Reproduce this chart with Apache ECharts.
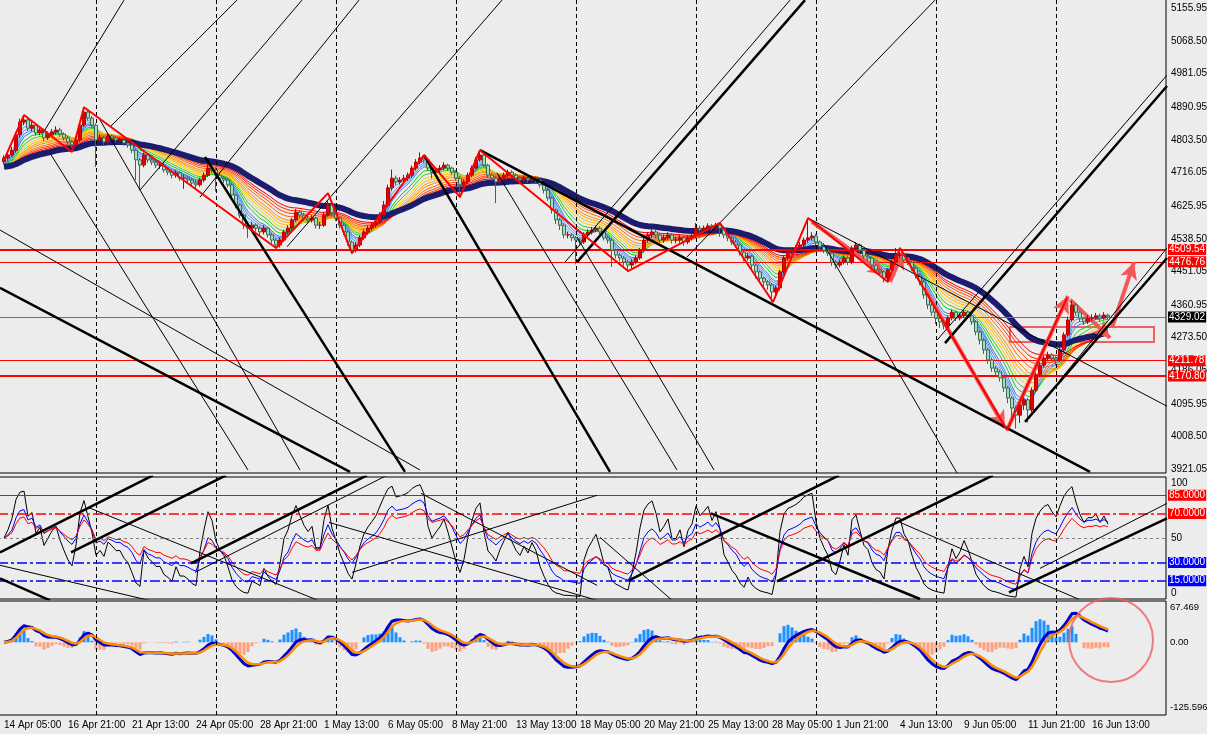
<!DOCTYPE html>
<html>
<head>
<meta charset="utf-8">
<script src="https://cdn.jsdelivr.net/npm/echarts@6/dist/echarts.min.js"></script>
<style>
  html, body { margin: 0; padding: 0; background: #ececec; }
  #chart { width: 1207px; height: 734px; }
</style>
</head>
<body>
<div id="chart"></div>
<script>
// ---- data (H4 bars, 14 Apr 05:00 .. 17 Jun) ----
var timeLabels = ["14 Apr 05:00", "16 Apr 21:00", "21 Apr 13:00", "24 Apr 05:00", "28 Apr 21:00",
  "1 May 13:00", "6 May 05:00", "8 May 21:00", "13 May 13:00", "18 May 05:00", "20 May 21:00",
  "25 May 13:00", "28 May 05:00", "1 Jun 21:00", "4 Jun 13:00", "9 Jun 05:00", "11 Jun 21:00", "16 Jun 13:00"];
var priceTicks = [5155.95, 5068.50, 4981.05, 4890.95, 4803.50, 4716.05, 4625.95, 4538.50,
  4451.05, 4360.95, 4273.50, 4186.05, 4095.95, 4008.50, 3921.05];
var macdTicks = [67.469, 0, -125.596];
var oscTicks = ["0", "50", "100"];

var firstOpen = 4745;
var closes = [
  4755,4763,4776,4817,4851,4857,4835,4843,4822,4830, 4809,4817,4825,4830,4819,4809,4798,4790,4803,4843,
  4878,4862,4843,4803,4809,4798,4814,4809,4803,4803, 4795,4790,4776,4750,4736,4763,4750,4744,4736,4736,
  4723,4717,4709,4715,4701,4701,4696,4688,4683,4696, 4709,4728,4723,4709,4701,4696,4683,4656,4629,4602,
  4575,4567,4575,4567,4557,4567,4549,4535,4522,4535, 4557,4567,4589,4610,4602,4594,4589,4594,4575,4575,
  4602,4629,4608,4594,4575,4557,4530,4508,4522,4541, 4557,4567,4575,4584,4602,4629,4675,4701,4691,4696,
  4701,4709,4728,4744,4755,4750,4728,4717,4723,4728, 4736,4728,4717,4701,4683,4691,4709,4728,4750,4763,
  4736,4709,4701,4691,4701,4709,4717,4709,4701,4696, 4701,4696,4701,4696,4683,4669,4648,4616,4589,4575,
  4549,4549,4541,4535,4530,4549,4557,4562,4567,4557, 4541,4535,4508,4495,4487,4476,4468,4476,4487,4508,
  4535,4549,4557,4549,4535,4541,4549,4535,4535,4541, 4530,4541,4546,4567,4562,4567,4573,4567,4575,4567,
  4549,4541,4530,4522,4503,4487,4492,4468,4450,4433, 4423,4415,4396,4407,4450,4487,4503,4508,4514,4522,
  4535,4541,4546,4530,4517,4508,4500,4476,4468,4476, 4487,4476,4514,4522,4508,4492,4487,4468,4455,4450,
  4433,4455,4476,4495,4495,4482,4476,4460,4441,4423, 4388,4361,4342,4326,4316,4307,4326,4342,4326,4332,
  4342,4332,4316,4289,4267,4241,4214,4192,4182,4166, 4139,4112,4085,4066,4093,4107,4080,4133,4174,4200,
  4219,4227,4219,4214,4241,4281,4321,4361,4342,4326, 4316,4326,4326,4332,4326,4334,4329
];
var highs = [
  4762,4770,4785,4825,4860,4870,4862,4852,4848,4840, 4834,4826,4833,4840,4836,4824,4814,4803,4810,4850,
  4892,4885,4868,4848,4818,4814,4820,4818,4814,4810, 4808,4800,4795,4780,4755,4770,4768,4756,4750,4745,
  4740,4730,4722,4722,4720,4710,4706,4700,4694,4702, 4716,4742,4734,4728,4714,4706,4700,4688,4660,4634,
  4606,4582,4584,4580,4572,4575,4570,4554,4540,4542, 4562,4575,4595,4618,4615,4608,4600,4602,4598,4584,
  4610,4640,4634,4612,4598,4580,4562,4534,4530,4548, 4564,4574,4582,4592,4610,4640,4684,4724,4708,4704,
  4710,4716,4735,4752,4770,4762,4754,4732,4730,4736, 4744,4740,4732,4722,4706,4698,4716,4735,4758,4776,
  4768,4740,4714,4706,4708,4716,4724,4722,4714,4706, 4708,4706,4708,4706,4700,4688,4674,4652,4620,4594,
  4580,4558,4554,4546,4540,4556,4564,4570,4574,4572, 4562,4546,4540,4512,4500,4492,4482,4484,4494,4514,
  4542,4556,4564,4562,4554,4550,4556,4554,4544,4550, 4546,4548,4554,4581,4574,4574,4580,4578,4581,4580,
  4572,4554,4546,4536,4526,4508,4500,4496,4472,4454, 4438,4428,4420,4414,4456,4494,4510,4516,4522,4530,
  4542,4594,4556,4552,4534,4522,4514,4504,4482,4482, 4494,4492,4520,4530,4526,4512,4496,4490,4472,4460,
  4454,4460,4482,4514,4504,4500,4488,4480,4464,4446, 4428,4392,4366,4348,4332,4322,4332,4348,4346,4340,
  4348,4346,4338,4320,4294,4272,4246,4220,4198,4188, 4172,4144,4116,4090,4100,4114,4112,4140,4180,4208,
  4226,4236,4232,4224,4248,4288,4330,4372,4366,4346, 4330,4334,4336,4340,4338,4342,4338
];
var lows = [
  4738,4748,4758,4770,4810,4843,4828,4826,4815,4816, 4800,4803,4810,4818,4812,4802,4790,4782,4785,4798,
  4838,4855,4836,4731,4796,4790,4792,4802,4796,4795, 4788,4782,4768,4696,4669,4730,4742,4736,4728,4726,
  4716,4709,4700,4702,4694,4672,4688,4680,4672,4678, 4690,4704,4715,4665,4694,4688,4676,4648,4620,4594,
  4565,4540,4560,4558,4548,4550,4542,4526,4512,4515, 4530,4550,4562,4584,4594,4586,4582,4582,4566,4565,
  4570,4598,4600,4586,4566,4548,4520,4498,4502,4516, 4536,4550,4560,4568,4578,4596,4622,4668,4682,4684,
  4690,4694,4702,4722,4738,4742,4720,4700,4710,4716, 4722,4720,4710,4694,4650,4676,4686,4704,4724,4745,
  4730,4702,4694,4634,4686,4696,4704,4702,4694,4686, 4690,4688,4690,4688,4676,4660,4640,4606,4578,4562,
  4540,4540,4532,4470,4520,4525,4544,4550,4556,4550, 4534,4526,4463,4486,4478,4466,4452,4460,4470,4482,
  4502,4528,4540,4540,4528,4528,4534,4526,4526,4528, 4520,4524,4534,4540,4540,4556,4560,4560,4560,4544,
  4540,4532,4522,4514,4494,4478,4480,4458,4432,4424, 4405,4402,4369,4388,4400,4444,4480,4496,4500,4506,
  4516,4528,4534,4522,4508,4500,4492,4466,4458,4462, 4470,4468,4470,4508,4500,4484,4478,4460,4446,4440,
  4422,4426,4450,4470,4486,4474,4468,4452,4432,4414, 4378,4350,4332,4310,4300,4296,4300,4320,4318,4320,
  4326,4324,4308,4280,4256,4230,4204,4182,4170,4156, 4128,4098,4060,4030,4045,4080,4046,4074,4128,4168,
  4194,4212,4210,4200,4208,4236,4276,4316,4334,4316, 4308,4310,4318,4322,4318,4322,4322
];

var weekStarts = [23, 53, 83, 113, 143, 173, 203, 233, 263];   // bar index of each Monday 01:00
var redLevels = [4509.54, 4476.76, 4211.78, 4170.80];
var bidPrice = 4329.02;
var oscLevels = [85, 70, 50, 30, 15];

// drawn objects, [bar, price, bar, price]
var thickLines = [
  [-1, 4407, 86.5, 3914], [50.25, 4758, 100.25, 3914], [105, 4763, 151.5, 3914],
  [119, 4776, 271.5, 3914], [143.25, 4476, 200.25, 5178], [235.25, 4259, 290.75, 4948],
  [255.25, 4048, 290.75, 4487]
];
var thinLines = [
  [201, 4594, 290.75, 4090], [140.25, 4476, 196.5, 5178], [233.25, 4267, 290.75, 4977],
  [264, 4160, 290.75, 4514], [170.75, 4490, 232.75, 5178], [-1, 4562, 104, 3919],
  [11.5, 4768, 61, 3919], [24, 4857, 74, 3919], [123.25, 4715, 168.25, 3919],
  [143.25, 4543, 177.5, 3919], [204.75, 4527, 238.25, 3911], [9.75, 4822, 30, 5178],
  [26.5, 4838, 58.25, 5178], [34, 4669, 74.5, 5178], [49, 4650, 88.75, 5178], [70.75, 4517, 124.5, 5178]
];
var oscThick = [
  [-1, 38.2, 37.25, 101.4], [16.75, 38.2, 55.5, 101.4], [46.75, 29.2, 90.75, 101.4],
  [156.25, 15.3, 208.75, 101.4], [193.25, 14.4, 247.25, 101.4], [251.25, 5.4, 290.75, 66.1],
  [-1, 16.9, 11.5, -1.1], [176.75, 70.2, 229, 0]
];
var oscThin = [
  [47.75, 21.8, 95.75, 101.4], [87, 21.8, 148.25, 85], [259, 25.1, 290.75, 78.4],
  [21, 75.1, 78.5, -1.1], [-1, 27.6, 36.25, -1.1], [81.25, 62.8, 148.25, -1.1],
  [104.25, 86.6, 148.25, 11.2], [149, 50.5, 166.75, -0.3], [224, 62.8, 268.75, -0.3]
];
var zigzagPts = [[0, 4750], [5, 4870], [17, 4771], [20, 4891], [68, 4514], [81, 4661], [87, 4500],
  [105, 4763], [114, 4650], [119, 4776], [156, 4452], [179, 4581], [192.25, 4369], [201, 4594],
  [221, 4423], [224, 4514], [250.75, 4026], [265.75, 4380]];
var arrowSegs = [[202, 4584, 220.25, 4442], [221.5, 4423, 224.75, 4503], [225.75, 4487, 250.25, 4032],
  [250.75, 4026, 266, 4385], [266.5, 4375, 276.5, 4273], [277, 4300, 282.5, 4476]];
var boxArea = [251.5, 4302, 287.5, 4262];
var circleMark = [276.75, 4.4];

// indicator settings
var ribbonSeed = 4730;
var ribbonPeriods = [2, 3, 4, 5, 6, 8, 10, 12, 14, 16, 18, 21, 24, 27, 30];
var ribbonColors = ['#7fb0f2', '#6aa2f0', '#5b94ec', '#4f88ea', '#3d7de8', '#00d800', '#3cc83c',
  '#ffd000', '#ffbb00', '#ffa500', '#ff9000', '#ff6a00', '#ff4a00', '#ff2a00', '#ff0000'];
var navyPeriod = 40;
var rsiPeriods = [5, 11, 16];
var rsiColors = ['#000000', '#0000ff', '#ff0000'];
var macdFast = 5, macdSlow = 13, macdSignal = 3, osmaScale = 3;

// ---- chart ----
var FONT = "'Liberation Sans', Arial, sans-serif";
var myChart = echarts.init(document.getElementById('chart'));

var nSlots = 292;
var slots = [];
for (var s = 0; s < nSlots; s++) slots.push(s);

var candleData = [];
for (var i = 0; i < closes.length; i++) {
  var o = i === 0 ? firstOpen : closes[i - 1];
  candleData.push([i + 1, o, closes[i], lows[i], highs[i]]);
}

function ema(src, n, seed) {
  var k = 2 / (n + 1), v = seed, out = [];
  for (var j = 0; j < src.length; j++) { v = v + k * (src[j] - v); out.push(v); }
  return out;
}
function rsi(src, n) {
  var g = 8, l = 8, out = [];
  for (var j = 0; j < src.length; j++) {
    var d = j === 0 ? 0 : src[j] - src[j - 1];
    g = (g * (n - 1) + Math.max(d, 0)) / n;
    l = (l * (n - 1) + Math.max(-d, 0)) / n;
    out.push(100 - 100 / (1 + g / l));
  }
  return out;
}
function pairs(arr) { return arr.map(function (v, j) { return [j, v]; }); }

var series = [];

function sepSeries(xi, yi) {
  return {
    type: 'line', xAxisIndex: xi, yAxisIndex: yi, data: [[-100, -1000]], symbol: 'none', silent: true, z: 1,
    markLine: {
      silent: true, symbol: ['none', 'none'], label: { show: false },
      lineStyle: { type: [4, 3], color: '#000', width: 1 },
      data: weekStarts.map(function (b) { return { xAxis: b }; })
    }
  };
}
function segSeries(list, xi, yi, width, z) {
  return list.map(function (l) {
    return {
      type: 'line', xAxisIndex: xi, yAxisIndex: yi, data: [[l[0], l[1]], [l[2], l[3]]],
      symbol: 'none', silent: true, z: z, lineStyle: { color: '#000', width: width }
    };
  });
}
function boxLabel(text, bg) {
  return {
    show: true, position: 'end', distance: 2, formatter: text, color: '#fff', backgroundColor: bg,
    padding: [1, 1, 0, 1], fontSize: 10, lineHeight: 10, fontFamily: FONT
  };
}

// separators in all panels
series.push(sepSeries(3, 0), sepSeries(4, 1), sepSeries(5, 2));

// ribbon
ribbonPeriods.forEach(function (p, k) {
  series.push({
    type: 'line', xAxisIndex: 3, yAxisIndex: 0, data: pairs(ema(closes, p, ribbonSeed)),
    symbol: 'none', silent: true, z: 3, lineStyle: { color: ribbonColors[k], width: 1 }
  });
});
series.push({
  type: 'line', xAxisIndex: 3, yAxisIndex: 0, data: pairs(ema(closes, navyPeriod, ribbonSeed)),
  symbol: 'none', silent: true, z: 4, lineStyle: { color: '#1c1c6e', width: 6 }
});

// candles
series.push({
  type: 'candlestick', xAxisIndex: 0, yAxisIndex: 0, data: candleData,
  encode: { x: 0, y: [1, 2, 3, 4] }, barWidth: 3, z: 5, silent: true,
  itemStyle: { color: '#e60000', borderColor: '#c00000', color0: '#a8dcb4', borderColor0: '#3a6a52', borderWidth: 1 }
});

// drawn lines
series = series.concat(segSeries(thinLines, 3, 0, 1, 6));
series = series.concat(segSeries(thickLines, 3, 0, 2.5, 6));

// zigzag
series.push({
  type: 'line', xAxisIndex: 3, yAxisIndex: 0, data: zigzagPts, symbol: 'none', silent: true, z: 7,
  lineStyle: { color: '#ff0000', width: 2 }
});

// price levels, arrows, box
var levelData = redLevels.map(function (v, k) {
  return { yAxis: v, lineStyle: { color: '#ff0000', width: (k === 0 || k === 3) ? 2 : 1, type: 'solid' },
    label: boxLabel(v.toFixed(2), '#ff0000') };
});
levelData.push({ yAxis: bidPrice, lineStyle: { color: '#4a6fdc', width: 1, type: 'solid' },
  label: boxLabel(bidPrice.toFixed(2), '#000000') });
series.push({
  type: 'line', xAxisIndex: 3, yAxisIndex: 0, data: [[-100, 0]], symbol: 'none', silent: true, z: 8,
  markLine: { silent: true, symbol: ['none', 'none'], data: levelData }
});
series.push({
  type: 'line', xAxisIndex: 3, yAxisIndex: 0, data: [[-100, 0]], symbol: 'none', silent: true, z: 9,
  markLine: {
    silent: true, symbol: ['none', 'arrow'], symbolSize: [13, 17], label: { show: false },
    lineStyle: { color: '#f25858', width: 4, type: 'solid' },
    data: arrowSegs.map(function (a) { return [{ coord: [a[0], a[1]] }, { coord: [a[2], a[3]] }]; })
  },
  markArea: {
    silent: true, itemStyle: { color: 'rgba(0,0,0,0)', borderColor: '#f06060', borderWidth: 2 },
    data: [[{ coord: [boxArea[0], boxArea[1]] }, { coord: [boxArea[2], boxArea[3]] }]]
  }
});

// oscillator panel
rsiPeriods.forEach(function (p, k) {
  series.push({
    type: 'line', xAxisIndex: 4, yAxisIndex: 1, data: pairs(rsi(closes, p)),
    symbol: 'none', silent: true, z: 4, lineStyle: { color: rsiColors[k], width: 1 }
  });
});
var oscLevelData = oscLevels.map(function (v) {
  var st = { color: '#ff0000', width: 1, type: 'solid' }, lab = { show: false };
  if (v === 85) lab = boxLabel('85.0000', '#ff0000');
  if (v === 70) { st = { color: '#ff0000', width: 1.5, type: [10, 3, 3, 3] }; lab = boxLabel('70.0000', '#ff0000'); }
  if (v === 50) st = { color: '#808080', width: 1, type: [3, 3] };
  if (v === 30) { st = { color: '#0000ff', width: 1.5, type: [10, 3, 3, 3] }; lab = boxLabel('30.0000', '#0000ff'); }
  if (v === 15) { st = { color: '#0000ff', width: 1.5, type: [10, 3, 3, 3] }; lab = boxLabel('15.0000', '#0000ff'); }
  return { yAxis: v, lineStyle: st, label: lab };
});
series.push({
  type: 'line', xAxisIndex: 4, yAxisIndex: 1, data: [[-100, -50]], symbol: 'none', silent: true, z: 2,
  markLine: { silent: true, symbol: ['none', 'none'], data: oscLevelData }
});
series = series.concat(segSeries(oscThin, 4, 1, 1, 5));
series = series.concat(segSeries(oscThick, 4, 1, 2.5, 5));

// MACD panel
var fastE = ema(closes, macdFast, closes[0]);
var slowE = ema(closes, macdSlow, closes[0]);
var macd = fastE.map(function (v, j) { return v - slowE[j]; });
var signal = ema(macd, macdSignal, 0);
var histData = macd.map(function (v, j) { return [j + 1, (v - signal[j]) * osmaScale]; });
series.push({
  type: 'bar', xAxisIndex: 2, yAxisIndex: 2, data: histData, barWidth: 3, silent: true, z: 2,
  itemStyle: { color: function (p) { return p.value[1] >= 0 ? '#1e90ff' : '#ffa07a'; } }
});
series.push({
  type: 'line', xAxisIndex: 5, yAxisIndex: 2, data: pairs(macd), symbol: 'none', silent: true, z: 3,
  lineStyle: { color: '#0000cd', width: 3 }
});
series.push({
  type: 'line', xAxisIndex: 5, yAxisIndex: 2, data: pairs(signal), symbol: 'none', silent: true, z: 4,
  lineStyle: { color: '#ff8c00', width: 2.5 }
});
series.push({
  type: 'scatter', xAxisIndex: 5, yAxisIndex: 2, data: [circleMark], symbol: 'circle', symbolSize: 84,
  silent: true, z: 6, itemStyle: { color: 'rgba(0,0,0,0)', borderColor: '#f06060', borderWidth: 2 }
});

var hiddenCat = function (gi) { return { type: 'category', gridIndex: gi, data: slots, show: false }; };
var hiddenVal = function (gi) { return { type: 'value', gridIndex: gi, min: -1.5, max: 290.5, show: false }; };
var axisTxt = { color: '#000', fontSize: 10, fontFamily: FONT };
var gridBase = { left: -2, width: 1168, show: true, borderColor: '#000', borderWidth: 1, outerBoundsMode: 'none', containLabel: false };

var option = {
  backgroundColor: '#ececec',
  animation: false,
  grid: [
    Object.assign({ top: -1, height: 474 }, gridBase),
    Object.assign({ top: 477, height: 122 }, gridBase),
    Object.assign({ top: 601, height: 114 }, gridBase)
  ],
  xAxis: [
    hiddenCat(0), hiddenCat(1),
    {
      type: 'category', gridIndex: 2, data: slots,
      axisLine: { show: false }, axisTick: { show: false }, splitLine: { show: false },
      axisLabel: Object.assign({}, axisTxt, {
        align: 'left', margin: 5, hideOverlap: false,
        interval: function (idx) { var b = idx - 1; return b >= 0 && b % 16 === 0 && b / 16 < timeLabels.length; },
        formatter: function (v, idx) { return timeLabels[(idx - 1) / 16] || ''; }
      })
    },
    hiddenVal(0), hiddenVal(1), hiddenVal(2)
  ],
  yAxis: [
    {
      type: 'value', gridIndex: 0, position: 'right', min: 3911, max: 5181,
      axisLine: { show: false }, axisTick: { show: false }, splitLine: { show: false },
      axisLabel: Object.assign({ customValues: priceTicks, margin: 5,
        formatter: function (v) { return v.toFixed(2); } }, axisTxt)
    },
    {
      type: 'value', gridIndex: 1, position: 'right', min: 0, max: 100,
      axisLine: { show: false }, axisTick: { show: false }, splitLine: { show: false },
      axisLabel: Object.assign({ customValues: [5, 50, 95], margin: 5,
        formatter: function (v) { return v > 90 ? oscTicks[2] : (v < 10 ? oscTicks[0] : oscTicks[1]); } }, axisTxt)
    },
    {
      type: 'value', gridIndex: 2, position: 'right', min: -139.8, max: 79.4,
      axisLine: { show: false }, axisTick: { show: false }, splitLine: { show: false },
      axisLabel: Object.assign({ customValues: macdTicks, margin: 4,
        formatter: function (v) { return v === 0 ? '0.00' : String(v); } }, axisTxt, { fontSize: 9.5 })
    }
  ],
  series: series
};
myChart.setOption(option);

window.addEventListener("resize", function () {
  myChart.resize();
});
</script>
</body>
</html>
